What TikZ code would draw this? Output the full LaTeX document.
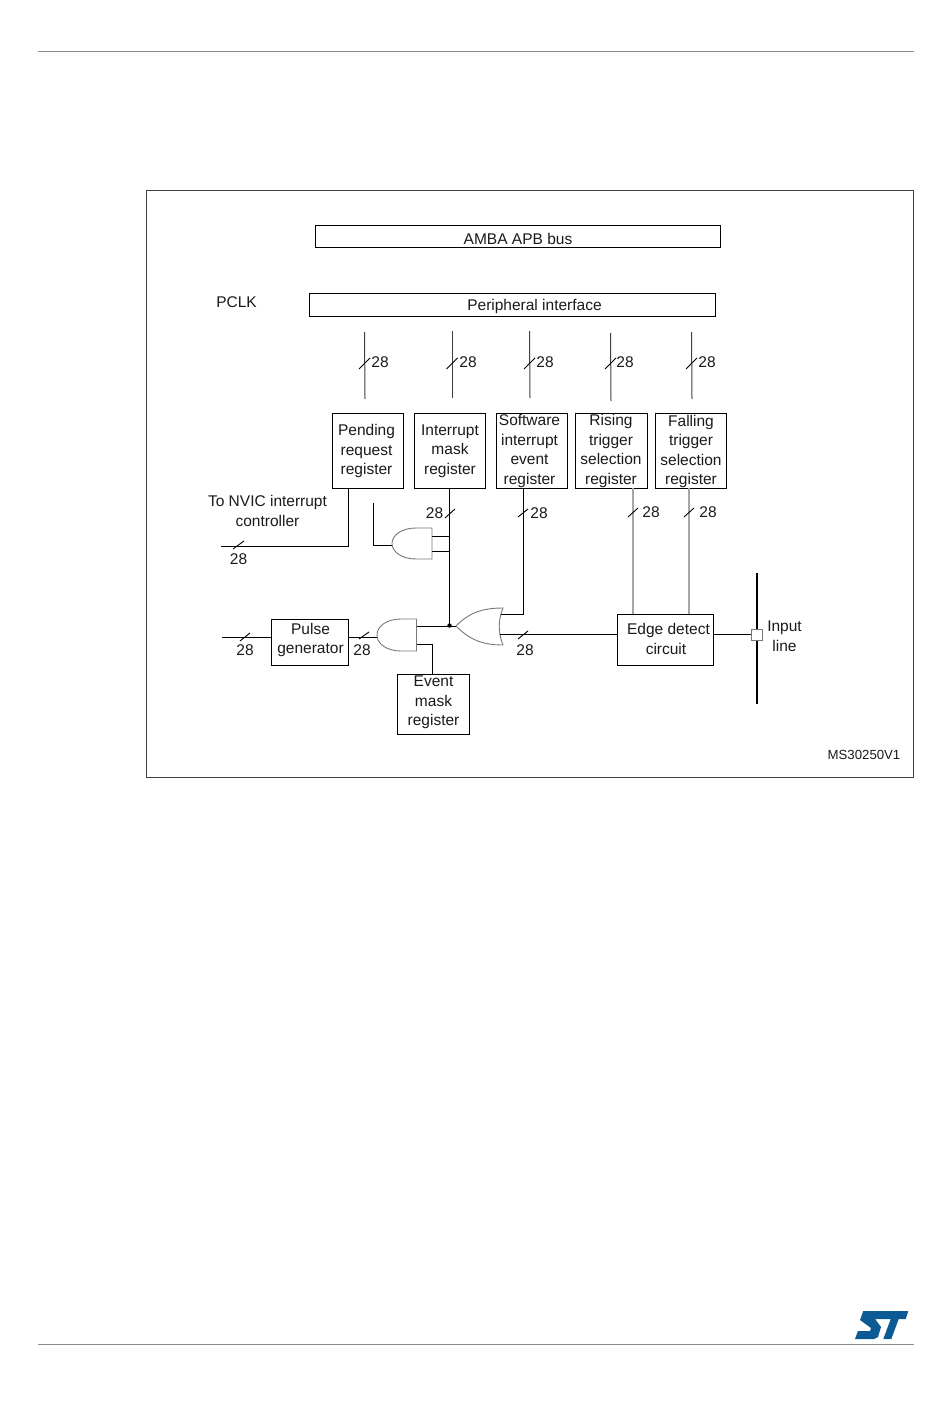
\documentclass[tikz,border=0pt]{standalone}
\usepackage{fontspec}
\setmainfont{Liberation Sans}
\usepackage{xcolor}
\definecolor{stblue}{HTML}{0B5A94}
\definecolor{rulegrey}{HTML}{8C8C8C}
\definecolor{gategrey}{HTML}{777777}
\definecolor{wiregrey}{HTML}{A6A6A6}
\definecolor{textgrey}{HTML}{1A1A1A}
\tikzset{
  regbox/.style={draw=black, line width=0.9pt, fill=white, inner sep=0pt, align=center, text=textgrey, font=\fontsize{15.5}{19.4}\selectfont},
  lbl/.style={inner sep=0pt, align=center, text=textgrey, font=\fontsize{15.5}{19.6}\selectfont},
  wire/.style={line width=1pt, color=black},
  greywire/.style={line width=1.8pt, color=wiregrey},
  gateline/.style={line width=0.9pt, color=gategrey},
  slashmark/.style={line width=0.9pt, color=black}
}
\begin{document}
\begin{tikzpicture}[x=1pt, y=-1pt]
  \useasboundingbox (0,0) rectangle (950,1420);
  \draw[line width=1pt, color=rulegrey] (38,51.5) -- (914,51.5); % top rule
  \draw[line width=1pt, color=rulegrey] (38,1344.5) -- (914,1344.5); % bottom rule
  \draw[line width=0.8pt, color=black!75] (146,190.5) rectangle (913.5,777.5); % frame

  \node[regbox, minimum width=405pt, minimum height=22pt] (amba) at (517.5,236) {};
  \node[lbl] (ambatxt) at (518,238.5) {AMBA APB bus};
  \node[regbox, minimum width=406pt, minimum height=23pt] (periph) at (512,304.5) {};
  \node[lbl] (periphtxt) at (534.5,306) {Peripheral interface};
  \node[lbl] (pclk) at (236.5,302.5) {PCLK};

  % registers
  \node[regbox, minimum width=71pt, minimum height=75pt] (pending) at (367.5,450.5) {};
  \node[lbl] (pendingtxt) at (366.5,451) {Pending\\request\\register};
  \node[regbox, minimum width=71pt, minimum height=75pt] (mask) at (449.5,450.5) {};
  \node[lbl] (masktxt) at (450,451) {Interrupt\\mask\\register};
  \node[regbox, minimum width=71pt, minimum height=75pt] (software) at (531.5,450.5) {};
  \node[lbl] (softwaretxt) at (529.5,451) {Software\\interrupt\\event\\register};
  \node[regbox, minimum width=72pt, minimum height=75pt] (rising) at (611,450.5) {};
  \node[lbl] (risingtxt) at (611,451) {Rising\\trigger\\selection\\register};
  \node[regbox, minimum width=71pt, minimum height=75pt] (falling) at (690.5,450.5) {};
  \node[lbl] (fallingtxt) at (691,451.5) {Falling\\trigger\\selection\\register};
  \node[regbox, minimum width=77pt, minimum height=46pt] (pulse) at (309.5,642) {};
  \node[lbl] (pulsetxt) at (310.5,640) {Pulse\\generator};
  \node[regbox, minimum width=72pt, minimum height=60pt] (event) at (433,704) {};
  \node[lbl] (eventtxt) at (433.5,702.5) {Event\\mask\\register};
  \node[regbox, minimum width=96pt, minimum height=51pt] (edge) at (665,639.5) {};
  \node[lbl] (edgetxt) at (668.5,630) {Edge detect};
  \node[lbl] (edgetxtb) at (666,649) {circuit};
  \node[lbl] (nvic) at (267.5,511) {To NVIC interrupt\\controller};
  \node[lbl] (input) at (784.5,636.5) {Input\\line};
  \node[lbl, font=\fontsize{13.2}{15}\selectfont] (version) at (864,755) {MS30250V1};

  % bus lines under the peripheral interface
  \foreach \n/\xa/\xb/\ya/\yb/\xn in {a/364.5/365/332/399/380, b/452.5/452.5/331/398/468, c/529.5/530/331/398/545, d/610.5/611/333/401/625, e/691.5/692/332/399/707} {
    \coordinate (bus\n top) at (\xa,\ya);
    \coordinate (bus\n bot) at (\xb,\yb);
    \draw[line width=1pt, color=black!75] (bus\n top) -- (bus\n bot);
    \draw[slashmark] (\xb-6,369) -- (\xb+5,358);
    \node[lbl] (bus\n num) at (\xn,362) {28};
  }

  % gates
  \draw[gateline] (416,528) .. controls (402,528) and (392,535) .. (392,543.5) .. controls (392,552) and (402,559) .. (416,559) -- (432,559) -- (432,528) -- cycle; % upper and
  \draw[gateline] (401,619) .. controls (387,619) and (377,626) .. (377,635) .. controls (377,644) and (387,651) .. (401,651) -- (416.5,651) -- (416.5,619) -- cycle; % lower and
  \draw[gateline] (456,626) .. controls (468,614) and (480,608) .. (503,608) .. controls (498,620) and (498,633) .. (503,645) .. controls (480,645) and (468,638) .. (456,626); % or

  \coordinate (andin) at (392,545.5);
  \coordinate (andfree) at (373.5,503);
  \coordinate (anda) at (432,536.5);
  \coordinate (andb) at (432,551.5);
  \coordinate (lowin) at (377,637.5);
  \coordinate (lowout) at (416.5,626.5);
  \coordinate (lowmask) at (416.5,644.5);
  \coordinate (orin) at (456,626.5);
  \coordinate (ortop) at (501,614.5);
  \coordinate (orout) at (499.5,634.5);
  \coordinate (joint) at (449.5,625.5);
  \coordinate (nvicend) at (221,546.5);
  \coordinate (pulsein) at (222,637.5);

  % wires
  \draw[wire] (pending.south -| 348.5,0) |- (nvicend);
  \draw[wire] (andfree) |- (andin);
  \draw[wire] (mask.south) -- (joint);
  \draw[wire] (anda) -- (anda -| joint);
  \draw[wire] (andb) -- (andb -| joint);
  \draw[wire] (lowout) -- (orin);
  \fill[black] (joint) circle (2.2pt); % dot
  \draw[wire] (software.south -| 523.5,0) |- (ortop);
  \draw[wire] (orout) -- (orout -| edge.west);
  \draw[wire] (pulsein) -- (pulsein -| pulse.west);
  \draw[wire] (pulse.east |- lowin) -- (lowin);
  \draw[wire] (lowmask) -| (event.north -| 432.5,0);
  \draw[greywire] (rising.south -| 633,0) -- (edge.north -| 633,0);
  \draw[greywire] (falling.south -| 689,0) -- (edge.north -| 689,0);

  % input pad
  \coordinate (linetop) at (757,573);
  \coordinate (linebot) at (757,704);
  \draw[line width=2pt, color=black] (linetop) -- (linebot);
  \node[draw=gategrey, fill=white, line width=0.9pt, minimum size=11pt, inner sep=0pt] (pad) at (756.5,634.5) {};
  \draw[wire] (edge.east |- pad) -- (pad.west);

  % width marks
  \foreach \xa/\ya/\xb/\yb in {233/549/244/541, 240/641/250/633, 359/639/369/632, 445/518/455/509, 518/517/528/509, 518/639/528/631, 628/517/638/508, 684/517/694/508} {
    \draw[slashmark] (\xa,\ya) -- (\xb,\yb);
  }
  \node[lbl] (numa) at (238.5,559) {28};
  \node[lbl] (numb) at (245,650) {28};
  \node[lbl] (numc) at (362,650) {28};
  \node[lbl] (numd) at (434.5,513) {28};
  \node[lbl] (nume) at (539,513) {28};
  \node[lbl] (numf) at (525,650) {28};
  \node[lbl] (numg) at (651,512) {28};
  \node[lbl] (numh) at (708,512) {28};

  % logo
  \fill[stblue] (863.3,1311) -- (908.3,1311) -- (905.7,1319) -- (898.7,1319) -- (891.3,1339) -- (883.3,1339) -- (890.7,1319) -- (875,1319) -- (881,1327) -- (878,1337) -- (874,1339) -- (855,1339) -- (858,1331) -- (870,1331) -- (871,1328) -- (860,1320) -- cycle;
\end{tikzpicture}
\end{document}
